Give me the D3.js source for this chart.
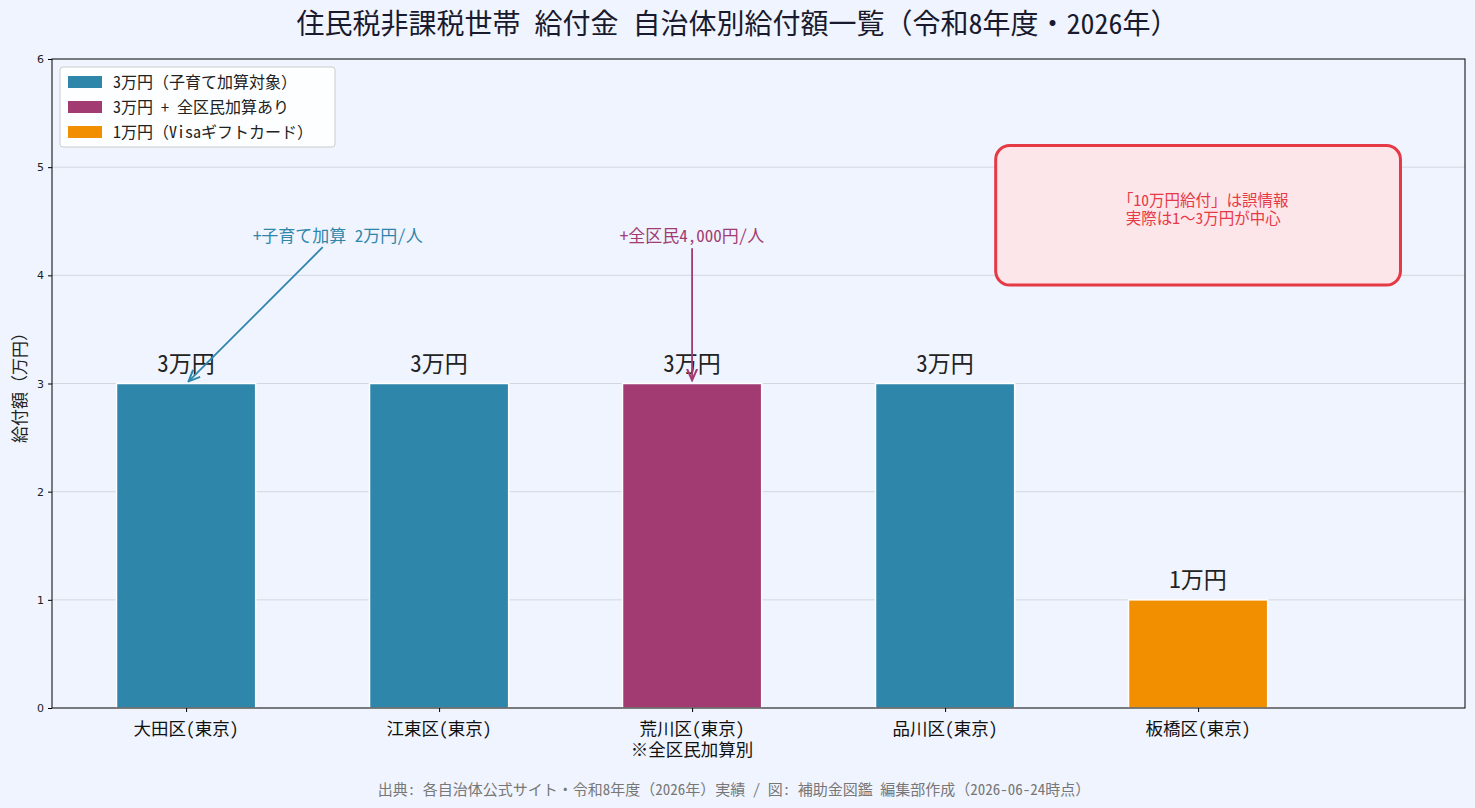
<!DOCTYPE html>
<html>
<head>
<meta charset="utf-8">
<script src="https://cdn.jsdelivr.net/npm/d3@7"></script>
<style>
  body { margin: 0; background: #eff4fe; }
  svg { display: block; }
</style>
</head>
<body>
<svg id="chart" width="1475" height="808"></svg>
<script>
const cities = ["大田区(東京)", "江東区(東京)", "荒川区(東京)\n※全区民加算別", "品川区(東京)", "板橋区(東京)"];
const amounts = [3, 3, 3, 3, 1];
const kinds = ["child", "child", "all", "child", "gift"];
const valueLabels = ["3万円", "3万円", "3万円", "3万円", "1万円"];
const yTicks = [0, 1, 2, 3, 4, 5, 6];

const legendItems = [
  { key: "child", label: "3万円（子育て加算対象）", color: "#2e86ab" },
  { key: "all", label: "3万円 + 全区民加算あり", color: "#a23b72" },
  { key: "gift", label: "1万円（Visaギフトカード）", color: "#f18f01" },
];

const JP = "'Noto Sans Mono CJK JP', 'DejaVu Sans Mono', 'Noto Sans CJK JP', sans-serif";
const svg = d3.select("#chart");
const W = 1475, H = 808;
const m = { left: 52, right: 10, top: 59, bottom: 100 };

svg.append("rect").attr("width", W).attr("height", H).attr("fill", "#eff4fe");

const x = d3.scaleLinear().domain([-0.53, 5.055]).range([m.left, W - m.right]);
const y = d3.scaleLinear().domain([0, 6]).range([H - m.bottom, m.top]);
const color = k => legendItems.find(d => d.key === k).color;

// grid
svg.append("g").selectAll("line")
  .data(yTicks.slice(1, -1))
  .join("line")
  .attr("x1", m.left).attr("x2", W - m.right)
  .attr("y1", d => y(d)).attr("y2", d => y(d))
  .attr("stroke", "#d3d8e0").attr("stroke-width", 1);

// bars
const bw = 0.55;
svg.append("g").selectAll("rect")
  .data(amounts)
  .join("rect")
  .attr("x", (d, i) => x(i - bw / 2))
  .attr("width", x(bw) - x(0))
  .attr("y", d => y(d))
  .attr("height", d => y(0) - y(d))
  .attr("fill", (d, i) => color(kinds[i]))
  .attr("stroke", "#fff").attr("stroke-width", 1.5);

// value labels
svg.append("g").selectAll("text")
  .data(amounts)
  .join("text")
  .attr("x", (d, i) => x(i))
  .attr("y", d => y(d) - 12)
  .attr("text-anchor", "middle")
  .attr("font-family", JP).attr("font-size", 23)
  .attr("fill", "#222")
  .text((d, i) => valueLabels[i]);

// axes frame
svg.append("rect")
  .attr("x", m.left).attr("y", m.top)
  .attr("width", W - m.right - m.left).attr("height", H - m.bottom - m.top)
  .attr("fill", "none").attr("stroke", "#000").attr("stroke-width", 1);

const yAxis = svg.append("g")
  .attr("transform", `translate(${m.left},0)`)
  .call(d3.axisLeft(y).tickValues(yTicks).tickFormat(d3.format("d")).tickSize(4).tickPadding(4));
yAxis.select(".domain").remove();
yAxis.selectAll("text").attr("font-family", "DejaVu Sans").attr("font-size", 11).attr("fill", "#222");

const xAxis = svg.append("g")
  .attr("transform", `translate(0,${H - m.bottom})`)
  .call(d3.axisBottom(x).tickValues(d3.range(cities.length)).tickFormat("").tickSize(4));
xAxis.select(".domain").remove();

// category labels, one text per line
cities.forEach((c, i) => {
  c.split("\n").forEach((line, j) => {
    svg.append("text")
      .attr("x", x(i)).attr("y", H - m.bottom + 27 + j * 21)
      .attr("text-anchor", "middle")
      .attr("font-family", JP).attr("font-size", 17.5).attr("fill", "#111")
      .text(line);
  });
});

// y label
svg.append("text")
  .attr("transform", `translate(26,${(m.top + H - m.bottom) / 2}) rotate(-90)`)
  .attr("text-anchor", "middle")
  .attr("font-family", JP).attr("font-size", 17).attr("fill", "#222")
  .text("給付額（万円）");

// title
svg.append("text")
  .attr("x", W / 2).attr("y", 34)
  .attr("text-anchor", "middle")
  .attr("font-family", JP).attr("font-size", 28).attr("fill", "#1a1a2e")
  .text("住民税非課税世帯 給付金 自治体別給付額一覧（令和8年度・2026年）");

// footer
svg.append("text")
  .attr("x", 734).attr("y", 795)
  .attr("text-anchor", "middle")
  .attr("font-family", JP).attr("font-size", 15).attr("fill", "#777")
  .text("出典: 各自治体公式サイト・令和8年度（2026年）実績 / 図: 補助金図鑑 編集部作成（2026-06-24時点）");

// annotations
const defs = svg.append("defs");
[["arrTeal", "#2e86ab"], ["arrMag", "#a23b72"]].forEach(([id, c]) => {
  defs.append("marker").attr("id", id)
    .attr("viewBox", "0 0 10 10").attr("refX", 9).attr("refY", 5)
    .attr("markerWidth", 7).attr("markerHeight", 7).attr("orient", "auto")
    .append("path").attr("d", "M0,1 L9,5 L0,9").attr("fill", "none").attr("stroke", c).attr("stroke-width", 1.6);
});

svg.append("line")
  .attr("x1", x(0.54)).attr("y1", y(4.26))
  .attr("x2", x(0.01)).attr("y2", y(3.02))
  .attr("stroke", "#2e86ab").attr("stroke-width", 1.8)
  .attr("marker-end", "url(#arrTeal)");
svg.append("text")
  .attr("x", x(0.6)).attr("y", y(4.36) + 6)
  .attr("text-anchor", "middle")
  .attr("font-family", JP).attr("font-size", 17).attr("fill", "#2e86ab")
  .text("+子育て加算 2万円/人");

svg.append("line")
  .attr("x1", x(2)).attr("y1", y(4.25))
  .attr("x2", x(2)).attr("y2", y(3.03))
  .attr("stroke", "#a23b72").attr("stroke-width", 1.8)
  .attr("marker-end", "url(#arrMag)");
svg.append("text")
  .attr("x", x(2)).attr("y", y(4.36) + 6)
  .attr("text-anchor", "middle")
  .attr("font-family", JP).attr("font-size", 17).attr("fill", "#a23b72")
  .text("+全区民4,000円/人");

// callout
svg.append("rect")
  .attr("x", x(3.2)).attr("y", y(5.2))
  .attr("width", x(4.8) - x(3.2)).attr("height", y(3.91) - y(5.2))
  .attr("rx", 14)
  .attr("fill", "#fde6ea").attr("stroke", "#e63946").attr("stroke-width", 3);
["「10万円給付」は誤情報", "実際は1〜3万円が中心"].forEach((t, j) => {
  svg.append("text")
    .attr("x", x(4.02)).attr("y", 206 + j * 18)
    .attr("text-anchor", "middle")
    .attr("font-family", JP).attr("font-size", 15.5).attr("fill", "#e63946")
    .text(t);
});

// legend
const lg = svg.append("g").attr("transform", "translate(60,67)");
lg.append("rect").attr("width", 275).attr("height", 80).attr("rx", 3)
  .attr("fill", "#fff").attr("fill-opacity", 0.85).attr("stroke", "#ccc");
legendItems.forEach((d, i) => {
  const r = lg.append("g").attr("transform", `translate(8,${9 + i * 25})`);
  r.append("rect").attr("width", 34).attr("height", 12).attr("fill", d.color);
  r.append("text").attr("x", 45).attr("y", 12)
    .attr("font-family", JP).attr("font-size", 16).attr("fill", "#222")
    .text(d.label);
});
</script>
</body>
</html>
